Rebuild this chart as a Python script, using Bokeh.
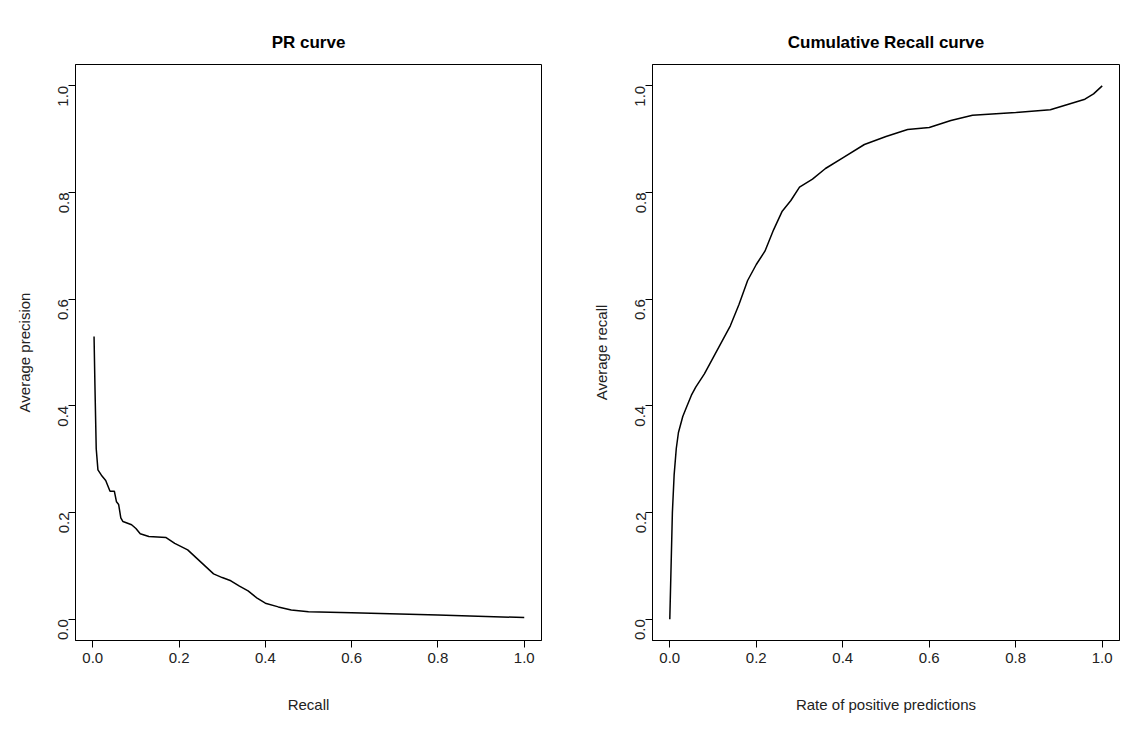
import math
from bokeh.embed import file_html
from bokeh.resources import INLINE
from bokeh.layouts import row
from bokeh.models import Range1d, NumeralTickFormatter
from bokeh.plotting import figure

# PR curve
pr_recall = [0.003, 0.005, 0.008, 0.012, 0.02, 0.03, 0.04, 0.05, 0.055, 0.06, 0.065, 0.07,
             0.09, 0.1, 0.11, 0.13, 0.17, 0.19, 0.22, 0.24, 0.26, 0.28, 0.3, 0.32, 0.34,
             0.36, 0.38, 0.4, 0.43, 0.46, 0.5, 0.6, 0.8, 1.0]
pr_precision = [0.53, 0.44, 0.32, 0.28, 0.27, 0.26, 0.24, 0.24, 0.22, 0.215, 0.19, 0.183,
                0.177, 0.17, 0.16, 0.155, 0.153, 0.142, 0.13, 0.115, 0.1, 0.085, 0.078,
                0.072, 0.062, 0.053, 0.04, 0.03, 0.023, 0.017, 0.014, 0.012, 0.008, 0.003]

# cumulative recall curve
cr_rate = [0, 0.003, 0.006, 0.01, 0.015, 0.02, 0.03, 0.04, 0.05, 0.06, 0.08, 0.1, 0.12,
           0.14, 0.16, 0.18, 0.2, 0.22, 0.24, 0.26, 0.28, 0.3, 0.33, 0.36, 0.4, 0.45,
           0.5, 0.55, 0.6, 0.65, 0.7, 0.8, 0.88, 0.92, 0.96, 0.98, 1.0]
cr_recall = [0, 0.1, 0.2, 0.27, 0.32, 0.35, 0.38, 0.4, 0.42, 0.435, 0.46, 0.49, 0.52,
             0.55, 0.59, 0.635, 0.665, 0.69, 0.73, 0.765, 0.785, 0.81, 0.825, 0.845,
             0.865, 0.89, 0.905, 0.918, 0.922, 0.935, 0.945, 0.95, 0.955, 0.965, 0.975,
             0.985, 1.0]

ticks = [0.0, 0.2, 0.4, 0.6, 0.8, 1.0]
FONT = "Liberation Sans"


def panel(title, xlab, ylab, xs, ys, width, left, right):
    p = figure(width=width, height=715, output_backend="svg", toolbar_location=None,
               x_range=Range1d(-0.04, 1.04), y_range=Range1d(-0.04, 1.04),
               min_border_left=left, min_border_right=right,
               min_border_top=64, min_border_bottom=65)
    p.title.text = title
    p.title.align = "center"
    p.title.text_font = FONT
    p.title.text_font_size = "17px"
    p.title.text_font_style = "bold"
    p.title.text_color = "black"
    p.title.standoff = 26
    p.grid.grid_line_color = None
    p.outline_line_color = "black"
    p.outline_line_width = 1
    for ax in (p.xaxis, p.yaxis):
        ax.ticker = ticks
        ax.formatter = NumeralTickFormatter(format="0.0")
        ax.major_label_text_font = FONT
        ax.major_label_text_font_size = "15px"
        ax.major_label_text_color = "#222222"
        ax.axis_label_text_font = FONT
        ax.axis_label_text_font_size = "15px"
        ax.axis_label_text_font_style = "normal"
        ax.axis_label_text_color = "#222222"
        ax.major_tick_out = 7
        ax.major_tick_in = 0
        ax.minor_tick_line_color = None
        ax.axis_line_color = "black"
    p.yaxis.major_label_orientation = math.pi / 2
    p.xaxis.axis_label = xlab
    p.yaxis.axis_label = ylab
    p.xaxis.axis_label_standoff = 30
    p.yaxis.axis_label_standoff = 18
    p.line(xs, ys, line_color="black", line_width=1.5)
    return p


p1 = panel("PR curve", "Recall", "Average precision", pr_recall, pr_precision, 580, 75, 39)
p2 = panel("Cumulative Recall curve", "Rate of positive predictions", "Average recall",
           cr_rate, cr_recall, 545, 72, 6)

p = row(p1, p2)
open("out.html", "w").write(file_html(p, INLINE))
